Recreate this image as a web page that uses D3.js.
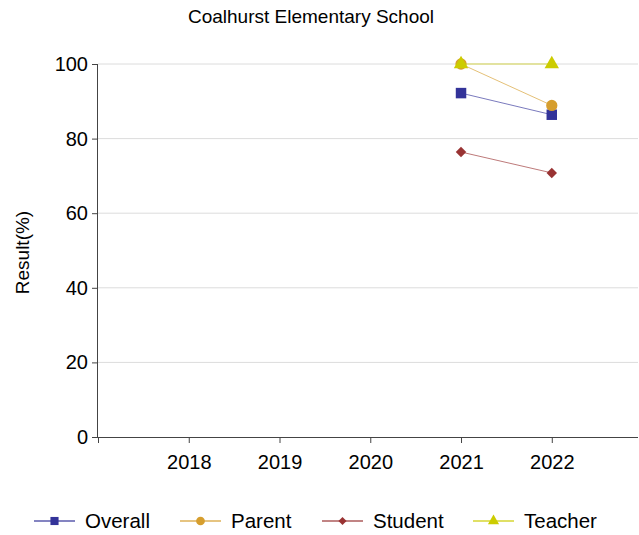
<!DOCTYPE html>
<html><head><meta charset="utf-8">
<script src="https://cdn.jsdelivr.net/npm/d3@7"></script>
<style>body{margin:0;background:#fff}svg{display:block;font-family:"Liberation Sans",Arial,sans-serif}</style>
</head><body><svg id="c" width="639" height="535"></svg>
<script>
const years = [2018, 2019, 2020, 2021, 2022];
const yTicks = [0, 20, 40, 60, 80, 100];
const seriesNames = ["Overall", "Parent", "Student", "Teacher"];
const seriesColors = ["#333399", "#D69E2E", "#993333", "#CCCC00"];
const seriesSymbols = ["square", "circle", "diamond", "triangle"];
const overall = [null, null, null, 92.2, 86.4];
const parent = [null, null, null, 100, 88.9];
const student = [null, null, null, 76.4, 70.8];
const teacher = [null, null, null, 100, 100];
const seriesValues = [overall, parent, student, teacher];

const svg = d3.select("#c");
const m = {l: 98, r: 638, t: 64, b: 437};
const x = d3.scaleLinear().domain([2017, 2022 + 0.95]).range([m.l, m.r]);
const y = d3.scaleLinear().domain([0, 100]).range([m.b, m.t]);

svg.append("text").attr("x", 311).attr("y", 23).attr("text-anchor", "middle")
  .attr("font-size", 19).text("Coalhurst Elementary School");

// grid
svg.append("g").selectAll("line").data(yTicks.filter(d => d > 0)).join("line")
  .attr("x1", m.l).attr("x2", m.r).attr("y1", d => y(d)).attr("y2", d => y(d))
  .attr("stroke", "#dcdcdc").attr("stroke-width", 1);

const ya = svg.append("g").attr("transform", `translate(${m.l},0)`)
  .call(d3.axisLeft(y).tickValues(yTicks).tickSize(6).tickPadding(4));
ya.select(".domain").attr("stroke", "#444").attr("d", `M-0.5,${m.t}V${m.b}`);
ya.selectAll(".tick line").attr("stroke", "#444");
ya.selectAll("text").attr("font-size", 20).attr("fill", "#000").attr("font-family", "Liberation Sans, Arial, sans-serif");

const xa = svg.append("g").attr("transform", `translate(0,${m.b})`)
  .call(d3.axisBottom(x).tickValues([2017, ...years]).tickFormat(d => d === 2017 ? "" : d).tickSize(6).tickPadding(12));
xa.select(".domain").attr("stroke", "#444").attr("d", `M${m.l},0.5H${m.r}`);
xa.selectAll(".tick line").attr("stroke", "#444");
xa.selectAll("text").attr("font-size", 20).attr("fill", "#000").attr("font-family", "Liberation Sans, Arial, sans-serif");

svg.append("text").attr("transform", `translate(29,${(m.t + m.b) / 2 + 2}) rotate(-90)`)
  .attr("text-anchor", "middle").attr("font-size", 19).text("Result(%)");

const symMap = {square: d3.symbolSquare, circle: d3.symbolCircle, diamond: d3.symbolSquare, triangle: d3.symbolTriangle};
const symSize = {square: 110, circle: 100, diamond: 55, triangle: 90};
const symRot = {square: 0, circle: 0, diamond: 45, triangle: 0};

seriesValues.forEach((vals, i) => {
  const s = seriesSymbols[i];
  const pts = years.map((yr, j) => ({yr, v: vals[j]})).filter(d => d.v != null);
  const line = d3.line().x(d => x(d.yr)).y(d => y(d.v));
  svg.append("path").attr("d", line(pts)).attr("fill", "none")
    .attr("stroke", seriesColors[i]).attr("stroke-opacity", 0.65).attr("stroke-width", 1);
  svg.append("g").selectAll("path").data(pts).join("path")
    .attr("transform", d => `translate(${x(d.yr)},${y(d.v)}) rotate(${symRot[s]})`)
    .attr("d", d3.symbol().type(symMap[s]).size(symSize[s]))
    .attr("fill", seriesColors[i]);
});

// legend
const legX = [34, 180, 322, 473];
const lg = svg.append("g");
seriesNames.forEach((n, i) => {
  const s = seriesSymbols[i];
  const g = lg.append("g").attr("transform", `translate(${legX[i]},521)`);
  g.append("line").attr("x1", 0).attr("x2", 41).attr("stroke", seriesColors[i]).attr("stroke-opacity", 0.8).attr("stroke-width", 1.5);
  g.append("path").attr("transform", `translate(20.5,0) rotate(${symRot[s]})`)
    .attr("d", d3.symbol().type(symMap[s]).size(symSize[s] * 0.6))
    .attr("fill", seriesColors[i]);
  g.append("text").attr("x", 51).attr("y", 7).attr("font-size", 20.5).text(n);
});
</script></body></html>
